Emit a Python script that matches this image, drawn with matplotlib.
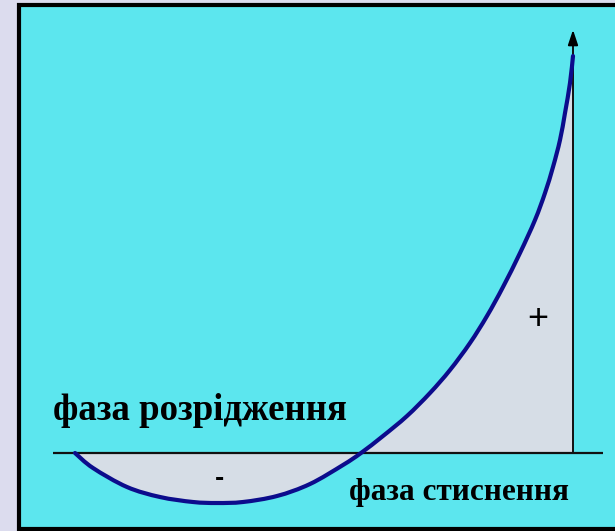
import numpy as np
import matplotlib.pyplot as plt
from matplotlib.patches import Rectangle, PathPatch
from matplotlib.path import Path

# крива тиску (x - час, y - відхилення тиску від нуля)
x = [22, 40, 74, 107, 140, 164, 190, 224, 257, 290, 308, 330, 354, 377, 397,
     417, 434, 450, 467, 482, 492, 500, 507, 512, 517, 520]
y = [0, -15, -34, -44, -49, -50, -49, -43, -31, -12, 0, 17, 37, 60, 83,
     110, 137, 166, 200, 233, 260, 286, 313, 340, 370, 397]
x_end = 520
arrow_top = 426
axis_len = 550
label_low = 'фаза розрідження'
label_high = 'фаза стиснення'

pts = np.column_stack([x, y]).astype(float)


def smooth_path(p):
    # гладка крива через точки (Catmull-Rom -> кубічні Безьє)
    ext = np.vstack([p[0], p, p[-1]])
    verts = [p[0]]
    codes = [Path.MOVETO]
    for i in range(1, len(ext) - 2):
        p0, p1, p2, p3 = ext[i - 1], ext[i], ext[i + 1], ext[i + 2]
        verts += [p1 + (p2 - p0) / 6, p2 - (p3 - p1) / 6, p2]
        codes += [Path.CURVE4] * 3
    return np.array(verts), codes


verts, codes = smooth_path(pts)

fig = plt.figure(figsize=(6.15, 5.31), dpi=100)
fig.patch.set_facecolor('#dcdcee')
ax = fig.add_axes([0, 0, 1, 1])
ax.set_xlim(-53, 562)
ax.set_ylim(-78, 453)
ax.axis('off')

ax.add_patch(Rectangle((-34, -76), 700, 524, facecolor='#5ce6ee',
                       edgecolor='black', lw=3, zorder=0))

# заливка між кривою та віссю
fill_verts = np.vstack([verts, [[x_end, 0], [x[0], 0], [x[0], 0]]])
fill_codes = codes + [Path.LINETO, Path.LINETO, Path.CLOSEPOLY]
ax.add_patch(PathPatch(Path(fill_verts, fill_codes), facecolor='#d6dde6',
                       edgecolor='none', zorder=1))

ax.hlines(0, 0, axis_len, color='#111111', lw=1.6, zorder=2)
ax.vlines(x_end, 0, arrow_top - 14, color='#111111', lw=1.4, zorder=2)
ax.annotate('', xy=(x_end, arrow_top), xytext=(x_end, arrow_top - 16),
            arrowprops=dict(arrowstyle='-|>,head_length=0.9,head_width=0.3',
                            color='black', lw=1.4), zorder=3)

ax.add_patch(PathPatch(Path(verts, codes), facecolor='none',
                       edgecolor='#0c0c8c', lw=3, capstyle='round', zorder=4))

ax.text(0, 33, label_low, fontfamily='Liberation Serif', fontweight='bold',
        fontsize=26.5, ha='left', va='baseline')
ax.text(296, -47, label_high, fontfamily='Liberation Serif', fontweight='bold',
        fontsize=22.5, ha='left', va='baseline')
ax.text(485, 134, '+', fontfamily='Liberation Sans', fontsize=26,
        ha='center', va='center')
ax.text(167, -26, '-', fontfamily='Liberation Sans', fontweight='bold',
        fontsize=20, ha='center', va='center')

plt.savefig('out.png', dpi=100, facecolor=fig.get_facecolor())
